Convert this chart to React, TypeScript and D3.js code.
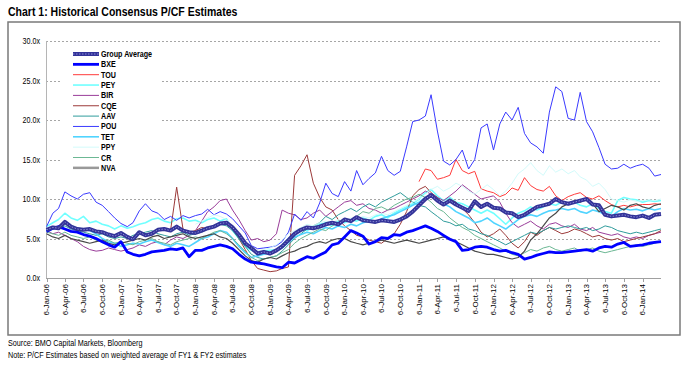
import { useEffect, useRef } from "react";
import * as d3 from "d3";

// monthly readings, 6-Jan-06 .. 6-Apr-14 (100 months)
const startDate = new Date(2006, 0, 6);
const endDate = new Date(2014, 3, 6);

const groupAverage = [
  6.1, 6.4, 6.3, 7.1, 6.5, 6.2, 6.1, 6.2, 5.9, 5.8, 5.5, 5.3,
  5.7, 5.2, 4.9, 5.8, 5.4, 5.6, 6.1, 6.2, 6.0, 6.5, 6.0, 5.8,
  5.7, 6.0, 6.3, 6.5, 6.9, 7.0, 6.4, 5.5, 4.4, 3.8, 3.1, 3.3,
  3.1, 3.5, 4.0, 4.8, 5.6, 6.1, 6.4, 6.3, 6.5, 6.8, 7.0, 6.8,
  7.4, 7.2, 7.7, 7.3, 7.2, 7.1, 7.3, 7.2, 7.1, 7.4, 7.8, 8.4,
  9.2, 10.0, 10.5, 9.8, 9.3, 9.8, 9.3, 8.9, 8.5, 9.7, 9.0, 9.4,
  8.9, 8.8, 8.3, 8.2, 7.7, 8.0, 8.5, 9.0, 9.2, 9.4, 10.0, 9.6,
  9.4, 9.6, 9.8, 10.0, 9.3, 9.2, 8.0, 7.8, 7.9, 8.0, 7.8, 7.7,
  7.9, 7.6, 8.0, 8.1,
];
const bxe = [
  5.9, 6.3, 6.5, 6.2, 5.9, 5.8, 5.5, 5.3, 5.0, 4.6, 4.2, 3.9,
  4.6, 3.3, 3.0, 2.8, 3.0, 3.3, 3.4, 3.5, 3.7, 3.6, 3.8, 2.7,
  3.5, 3.5, 3.8, 4.0, 4.2, 4.0, 3.7, 3.0, 2.4, 2.0, 1.9, 1.8,
  1.6, 1.4, 1.3, 2.0, 1.9, 2.3, 2.7, 2.5, 2.9, 3.3, 4.2, 4.4,
  5.2, 6.0, 5.7, 5.3, 4.3, 4.6, 5.1, 5.0, 5.5, 5.4, 5.8, 6.0,
  6.3, 6.6, 6.3, 5.9, 5.4, 4.9, 4.6, 3.5, 3.6, 3.9, 4.0, 3.9,
  3.6, 3.4, 3.5, 3.2, 3.0, 2.4, 2.6, 2.9, 3.1, 3.3, 3.2, 3.2,
  3.3, 3.4, 3.5, 3.6, 3.4, 3.8, 4.0, 3.9, 4.3, 4.5, 4.0, 4.1,
  4.2, 4.4, 4.5, 4.6,
];
const tou = [
  null, null, null, null, null, null, null, null, null, null, null, null,
  null, null, null, null, null, null, null, null, null, null, null, null,
  null, null, null, null, null, null, null, null, null, null, null, null,
  null, null, null, null, null, null, null, null, null, null, null, null,
  null, null, null, null, null, null, null, null, null, null, null, null,
  12.2, 13.8, 13.6, 12.5, 12.7, 13.0, 15.0, 13.6, 13.2, 13.5, 11.3, 11.0,
  10.8, 10.3, 10.6, 11.4, 11.1, 12.7, 11.7, 11.2, 11.0, 11.6, 10.4, 9.8,
  10.3, 10.6, 10.8, 10.2, 10.0, 10.4, 9.8, 9.3, 9.0, 9.2, 9.0, 9.2,
  9.3, 9.3, 9.4, 9.3,
];
const pey = [
  6.5, 7.0, 7.4, 8.2, 7.6, 7.3, 7.8, 7.0, 7.2, 6.8, 6.6, 6.2,
  6.6, 6.3, 6.5, 6.8, 7.0, 7.4, 7.6, 7.2, 7.0, 7.5, 7.6, 7.2,
  7.3, 7.0, 7.4, 7.6, 7.2, 7.5, 6.0, 5.0, 4.0, 3.5, 3.2, 3.4,
  3.5, 3.6, 4.2, 5.0, 5.6, 6.2, 6.0, 6.4, 6.8, 7.0, 6.6, 7.2,
  7.0, 7.4, 7.2, 7.6, 7.3, 7.8, 8.0, 7.6, 8.2, 8.6, 9.0, 9.4,
  10.0, 10.8, 11.2, 10.4, 9.8, 10.2, 9.6, 9.4, 9.0, 8.6, 8.2, 8.6,
  8.2, 7.5, 6.8, 7.6, 8.2, 8.5, 9.0, 8.6, 9.0, 9.4, 9.2, 9.6,
  9.3, 9.6, 9.2, 9.0, 9.4, 8.8, 8.4, 8.2, 9.8, 10.2, 10.0, 9.9,
  9.6, 9.8, 9.7, 9.8,
];
const bir = [
  6.0, 5.6, 5.8, 5.4, 5.0, 4.6, 4.0, 3.6, 3.4, 3.5, 3.8, 3.6,
  3.4, 3.6, 3.8, 4.2, 4.0, 4.4, 4.6, 4.2, 4.8, 5.2, 5.0, 5.4,
  6.0, 7.2, 8.4, 9.0, 9.8, 10.0, 8.6, 7.4, 6.0, 4.8, 5.0, 4.6,
  4.8, 5.6, 8.6, 8.2, 8.0, 7.4, 7.6, 8.2, 8.6, 7.8, 8.4, 9.0,
  9.6, 9.8, 9.2, 9.4, 8.8, 8.6, 8.2, 8.6, 8.8, 9.2, 9.6, 10.0,
  10.4, 11.0, 10.6, 10.2, 9.8, 10.4, 11.0, 11.8, 11.2, 10.6, 10.0, 10.2,
  10.4, 9.6, 8.2, 7.0, 6.4, 6.8, 7.2, 6.6, 6.2, 6.8, 7.0, 6.6,
  6.4, 6.8, 6.2, 6.0, 6.4, 5.8, 5.6, 5.4, 5.6, 5.2, 5.0, 5.2,
  5.0, 5.4, 5.6, 5.8,
];
const cqe = [
  null, null, null, null, null, null, null, null, null, null, null, null,
  null, null, null, null, null, null, null, null, 6.0, 11.5, 6.2, 5.8,
  6.0, 6.4, 6.2, 6.6, 7.0, 6.8, 6.2, 5.0, 3.6, 2.2, 1.2, 1.0,
  0.8, 0.9, 1.2, 1.4, 13.0, 14.2, 15.6, 12.0, 10.2, 9.0, 8.6, 7.4,
  6.6, 6.0, 5.4, 5.2, 4.8, 4.6, 4.4, 5.0, 5.6, 6.8, 8.4, 10.4,
  11.2, 11.6, 10.8, 10.2, 9.4, 10.0, 9.6, 8.8, 8.0, 7.0, 5.8, 5.2,
  5.6, 6.2, 5.4, 4.4, 3.8, 4.6, 5.8, 5.4, 6.0, 6.4, 6.0, 5.6,
  5.8, 6.2, 6.0, 5.6, 5.2, 5.4, 5.0, 4.8, 5.0, 4.6, 4.8, 5.0,
  5.2, 5.4, 5.6, 6.0,
];
const aav = [
  6.0, 6.4, 6.2, 6.6, 6.2, 6.0, 5.8, 5.6, 5.4, 5.6, 5.2, 5.0,
  5.2, 5.0, 5.4, 5.6, 5.8, 6.0, 5.6, 5.4, 5.2, 5.6, 5.8, 5.4,
  5.6, 5.8, 6.2, 6.4, 6.8, 6.6, 6.0, 5.0, 4.0, 3.0, 2.6, 2.4,
  2.6, 2.8, 3.4, 4.2, 5.0, 5.6, 6.2, 6.6, 7.0, 7.8, 7.4, 8.0,
  8.4, 8.8, 8.4, 9.0, 9.4, 9.0, 9.6, 10.0, 10.4, 10.8, 10.2, 9.6,
  9.2, 9.0, 8.4, 7.8, 7.2, 7.0, 6.6, 6.8, 6.2, 6.0, 5.6, 5.4,
  5.0, 4.6, 4.2, 4.6, 5.0, 5.4, 5.8, 5.6, 6.0, 6.4, 6.2, 6.4,
  6.6, 6.4, 6.2, 6.4, 6.0, 6.2, 6.6, 6.4, 6.0, 5.8, 5.6, 5.8,
  5.6, 5.8, 6.0, 6.2,
];
const pou = [
  6.5, 8.2, 8.8, 10.9, 10.4, 10.0, 10.6, 10.8, 9.6, 9.2, 8.4, 7.6,
  6.9, 6.5, 7.0, 8.5, 9.4, 8.5, 8.2, 7.4, 7.8, 7.3, 7.9, 7.6,
  7.9, 8.1, 8.7, 8.0, 8.4, 8.1, 7.5, 6.6, 5.7, 4.1, 3.7, 3.8,
  3.9, 4.1, 4.6, 5.8, 8.1, 7.3, 8.4, 7.6, 9.5, 12.0, 10.7, 10.3,
  12.2, 11.0, 13.6, 11.8, 12.6, 13.3, 15.4, 13.6, 13.0, 13.5, 16.6, 19.8,
  20.0, 20.5, 23.2, 18.6, 14.8, 14.3, 15.0, 16.2, 13.8, 15.0, 19.0, 19.5,
  16.2, 19.5, 21.0, 20.0, 21.6, 18.3, 17.1, 16.6, 15.8, 21.0, 24.2, 23.6,
  20.2, 20.0, 23.5, 19.8, 18.5, 16.5, 14.4, 13.8, 13.9, 14.4, 13.9, 14.2,
  14.4, 13.9, 12.9, 13.1,
];
const tet = [
  6.0, 6.2, 6.5, 7.0, 6.6, 6.3, 6.2, 6.0, 5.6, 5.0, 4.6, 4.4,
  4.0, 4.2, 4.4, 4.3, 4.6, 4.8, 4.5, 4.2, 4.0, 4.4, 4.2, 4.0,
  4.5, 5.0, 5.2, 5.6, 6.0, 5.8, 5.0, 4.0, 3.2, 2.6, 2.8, 3.0,
  3.2, 3.4, 3.8, 4.5, 5.2, 5.5, 5.8, 5.6, 6.0, 6.4, 6.2, 6.6,
  6.4, 6.8, 6.6, 7.0, 7.2, 7.0, 7.5, 7.8, 8.0, 8.4, 8.8, 9.2,
  9.6, 10.2, 10.6, 10.0, 9.4, 9.0, 8.4, 8.0, 7.6, 7.0, 7.2, 7.6,
  7.0, 6.6, 6.2, 6.8, 7.4, 7.8, 8.0, 7.8, 8.2, 8.5, 8.6, 8.8,
  8.6, 8.8, 8.4, 8.2, 8.6, 8.4, 8.0, 7.8, 8.4, 8.8, 8.6, 8.7,
  8.5, 8.8, 8.6, 8.8,
];
const ppy = [
  null, null, null, null, null, null, null, null, null, null, null, null,
  null, null, null, null, null, null, null, null, null, null, null, null,
  6.8, 7.2, 7.6, 8.0, 7.8, 7.4, 6.4, 5.6, 4.6, 3.8, 3.4, 3.6,
  3.8, 4.2, 4.8, 5.6, 6.0, 6.4, 6.8, 6.6, 7.0, 7.2, 7.0, 7.4,
  7.2, 7.6, 7.4, 7.8, 7.6, 8.0, 8.2, 8.0, 8.4, 8.8, 9.2, 9.6,
  10.0, 10.6, 11.2, 11.6, 11.0, 11.4, 12.0, 11.6, 11.0, 10.6, 11.2, 11.8,
  11.2, 10.4, 11.0, 12.0, 13.2, 13.8, 14.6, 13.6, 13.0, 14.2, 13.4, 13.8,
  13.2, 13.6, 12.8, 12.4, 11.6, 12.0, 11.2, 10.0, 9.8, 9.6, 9.9, 9.7,
  9.8, 9.9, 9.8, 10.0,
];
const cr = [
  5.8, 5.6, 5.4, 5.8, 5.4, 5.2, 5.0, 5.2, 4.8, 4.6, 4.8, 4.4,
  4.6, 4.4, 4.2, 4.6, 4.8, 5.0, 4.6, 4.4, 4.2, 4.6, 4.8, 5.0,
  5.2, 5.0, 5.4, 5.8, 6.0, 5.6, 5.0, 4.2, 3.4, 2.6, 2.2, 2.4,
  2.6, 2.8, 3.2, 3.6, 4.4, 5.0, 5.4, 5.8, 6.2, 6.0, 6.6, 7.0,
  7.4, 7.2, 7.8, 8.4, 8.2, 8.8, 9.0, 8.6, 9.2, 9.6, 10.0, 10.2,
  10.6, 10.2, 9.6, 8.8, 8.4, 7.6, 7.0, 6.4, 6.0, 5.4, 5.0, 4.6,
  4.2, 3.8, 3.4, 3.0, 2.8, 3.2, 3.6, 3.4, 3.8, 4.0, 3.6, 3.4,
  3.6, 3.8, 3.4, 3.6, 3.8, 3.4, 3.2, 3.4, 3.6, 3.8, 4.0, 4.2,
  4.0, 4.2, 4.4, 4.6,
];
const nva = [
  5.6, 5.2, 5.0, 5.4, 5.0, 4.8, 4.6, 4.4, 4.6, 4.8, 4.4, 4.2,
  4.4, 4.6, 4.8, 5.0, 4.8, 5.2, 5.4, 5.0, 5.2, 5.4, 5.6, 5.2,
  5.0, 5.2, 5.4, 5.6, 5.2, 5.0, 4.4, 3.6, 2.8, 2.2, 2.0, 2.4,
  2.6, 2.4, 2.8, 3.2, 3.4, 3.8, 4.0, 4.4, 4.6, 4.4, 4.8, 5.0,
  5.0, 4.6, 4.4, 4.2, 4.4, 4.6, 4.8, 4.6, 4.4, 4.6, 4.8, 4.6,
  4.4, 4.6, 4.8, 5.0, 5.2, 5.0, 4.6, 4.2, 3.8, 3.4, 3.2, 3.0,
  3.0, 2.8, 2.6, 2.4, 2.6, 3.4, 4.8, 5.6, 6.6, 7.6, 8.2, 9.0,
  9.4, 9.8, 9.6, 10.0, 9.4, 8.4, 8.8, 9.2, 9.0, 8.6, 9.2, 9.4,
  9.0, 8.8, 9.2, 9.4,
];

const seriesNames = ["Group Average", "BXE", "TOU", "PEY", "BIR", "CQE", "AAV", "POU", "TET", "PPY", "CR", "NVA"];
const seriesValues = [groupAverage, bxe, tou, pey, bir, cqe, aav, pou, tet, ppy, cr, nva];
const yTicks = [0, 5, 10, 15, 20, 25, 30];

const colors: Record<string, string> = {
  "Group Average": "#333399",
  BXE: "#0000ff",
  TOU: "#ff3b3b",
  PEY: "#70ffff",
  BIR: "#9a3d9a",
  CQE: "#9c3a3a",
  AAV: "#2f9c9c",
  POU: "#3a3aff",
  TET: "#50d4ff",
  PPY: "#d2fbfb",
  CR: "#6cb894",
  NVA: "#4a4a4a",
};
const widths: Record<string, number> = {
  "Group Average": 4,
  BXE: 2.8,
  PEY: 1.6,
  TET: 1.6,
  NVA: 1.2,
};

const sans = "'Liberation Sans', Arial, sans-serif";

// no narrow face installed: squeeze Liberation Sans to an Arial Narrow width
// eslint-disable-next-line @typescript-eslint/no-explicit-any
const condense = (sel: any, f = 0.84) =>
  sel.each(function (this: SVGTextElement) {
    const len = this.getComputedTextLength();
    d3.select(this).attr("textLength", len * f).attr("lengthAdjust", "spacingAndGlyphs");
  });

const App = () => {
  const svgRef = useRef<SVGSVGElement | null>(null);

  useEffect(() => {
    document.body.style.margin = "0";
    const svg = d3.select(svgRef.current);
    svg.selectAll("*").remove();

    const x = d3.scaleTime().domain([startDate, endDate]).range([46.5, 661]);
    const y = d3.scaleLinear().domain([0, 30]).range([278, 41]);
    const dates = d3.range(100).map((i) => d3.timeMonth.offset(startDate, i));

    svg.append("rect").attr("width", 688).attr("height", 368).attr("fill", "#fff");

    condense(
      svg
        .append("text")
        .attr("x", 8)
        .attr("y", 16)
        .attr("font-family", sans)
        .attr("font-weight", "bold")
        .attr("font-size", 12.5)
        .text("Chart 1: Historical Consensus P/CF Estimates")
    );

    svg
      .append("rect")
      .attr("x", 8)
      .attr("y", 22)
      .attr("width", 672)
      .attr("height", 313)
      .attr("fill", "none")
      .attr("stroke", "#7a7a7a")
      .attr("stroke-width", 1.5);

    // gridlines
    svg
      .append("g")
      .selectAll("line")
      .data(yTicks.filter((t) => t > 0))
      .join("line")
      .attr("x1", 46)
      .attr("x2", 661)
      .attr("y1", (d) => Math.round(y(d)) + 0.5)
      .attr("y2", (d) => Math.round(y(d)) + 0.5)
      .attr("stroke", "#a6a6a6")
      .attr("stroke-dasharray", "2,2");

    // y axis labels
    condense(
      svg
        .append("g")
        .selectAll("text")
        .data(yTicks)
        .join("text")
        .attr("x", 40)
        .attr("y", (d) => y(d) + 3)
        .attr("text-anchor", "end")
        .attr("font-family", sans)
        .attr("font-size", 8.5)
        .text((d) => d.toFixed(1) + "x")
    );

    svg
      .append("line")
      .attr("x1", 46.5)
      .attr("x2", 46.5)
      .attr("y1", 41)
      .attr("y2", 278)
      .attr("stroke", "#b5b5b5");

    // x axis
    const tickDates = d3.range(33).map((i) => d3.timeMonth.offset(startDate, i * 3));
    const fmt = d3.timeFormat("%-d-%b-%y");
    const xAxis = svg.append("g");
    xAxis
      .append("line")
      .attr("x1", 46)
      .attr("x2", 661)
      .attr("y1", 278.5)
      .attr("y2", 278.5)
      .attr("stroke", "#a0a0a0");
    xAxis
      .selectAll("line.tick")
      .data(tickDates)
      .join("line")
      .attr("class", "tick")
      .attr("x1", (d) => Math.round(x(d)) + 0.5)
      .attr("x2", (d) => Math.round(x(d)) + 0.5)
      .attr("y1", 278)
      .attr("y2", 282)
      .attr("stroke", "#a0a0a0");
    xAxis
      .selectAll("text")
      .data(tickDates)
      .join("text")
      .attr("transform", (d) => `translate(${x(d)},284) rotate(-90)`)
      .attr("text-anchor", "end")
      .attr("dy", "0.35em")
      .attr("font-family", sans)
      .attr("font-size", 8)
      .text((d) => fmt(d));

    // legend background hides gridlines behind it
    svg.append("rect").attr("x", 61).attr("y", 45).attr("width", 99).attr("height", 130).attr("fill", "#fff");

    const line = d3
      .line<number | null>()
      .defined((d) => d !== null)
      .x((_, i) => x(dates[i]))
      .y((d) => y(d as number));

    const order = [2, 3, 4, 5, 6, 7, 8, 9, 10, 11, 1, 0];
    const lines = svg.append("g").attr("fill", "none").attr("stroke-linejoin", "round");
    order.forEach((k) => {
      const name = seriesNames[k];
      lines
        .append("path")
        .attr("d", line(seriesValues[k]))
        .attr("stroke", colors[name])
        .attr("stroke-width", widths[name] ?? 1);
      if (name === "Group Average") {
        lines
          .append("path")
          .attr("d", line(seriesValues[k]))
          .attr("stroke", "#8c8cd6")
          .attr("stroke-width", 1)
          .attr("stroke-dasharray", "1.5,1.5");
      }
    });

    // legend
    const legend = svg.append("g");
    seriesNames.forEach((name, i) => {
      const ly = 54 + i * 10.35;
      legend
        .append("line")
        .attr("x1", 73)
        .attr("x2", 99)
        .attr("y1", ly)
        .attr("y2", ly)
        .attr("stroke", name === "NVA" ? "#999" : colors[name])
        .attr("stroke-width", name === "NVA" ? 2.5 : widths[name] ?? 1);
      if (name === "Group Average") {
        legend
          .append("line")
          .attr("x1", 73)
          .attr("x2", 99)
          .attr("y1", ly)
          .attr("y2", ly)
          .attr("stroke", "#8c8cd6")
          .attr("stroke-dasharray", "1.5,1.5");
      }
      condense(
        legend
          .append("text")
          .attr("x", 101)
          .attr("y", ly + 3)
          .attr("font-family", sans)
          .attr("font-weight", "bold")
          .attr("font-size", 8.5)
          .text(name)
      );
    });

    condense(
      svg
        .append("text")
        .attr("x", 8)
        .attr("y", 346)
        .attr("font-family", sans)
        .attr("font-size", 8.6)
        .text("Source: BMO Capital Markets, Bloomberg")
    );
    condense(
      svg
        .append("text")
        .attr("x", 8)
        .attr("y", 358)
        .attr("font-family", sans)
        .attr("font-size", 8.6)
        .text("Note: P/CF Estimates based on weighted average of FY1 & FY2 estimates")
    );
  }, []);

  return <svg ref={svgRef} width={688} height={368} style={{ display: "block" }}></svg>;
};

export default App;
